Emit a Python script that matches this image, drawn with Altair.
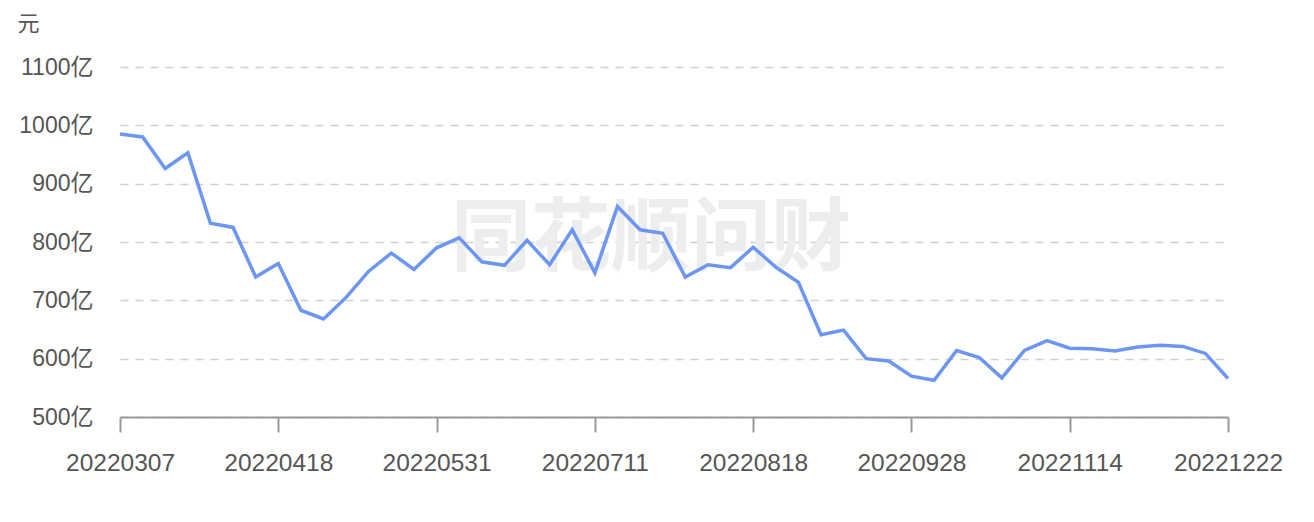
import altair as alt
import pandas as pd

dates = [
    "20220307", "20220314", "20220318", "20220325", "20220401", "20220406", "20220412",
    "20220418", "20220422", "20220429", "20220506", "20220512", "20220518", "20220524",
    "20220531", "20220607", "20220613", "20220617", "20220624", "20220630", "20220705",
    "20220711", "20220715", "20220721", "20220727", "20220802", "20220808", "20220812",
    "20220818", "20220824", "20220830", "20220905", "20220909", "20220916", "20220922",
    "20220928", "20221011", "20221017", "20221021", "20221027", "20221102", "20221108",
    "20221114", "20221118", "20221124", "20221130", "20221206", "20221212", "20221216",
    "20221222",
]
values = [
    985, 980, 926, 953, 832, 825, 740, 763, 683, 668,
    705, 750, 781, 753, 790, 807, 766, 760, 803, 761,
    821, 747, 861, 821, 815, 740, 761, 756, 791, 757,
    731, 641, 649, 600, 596, 570, 563, 614, 602, 567,
    614, 631, 618, 617, 613, 620, 623, 621, 609, 566,
]
tick_dates = ["20220307", "20220418", "20220531", "20220711",
              "20220818", "20220928", "20221114", "20221222"]
y_ticks = [500, 600, 700, 800, 900, 1000, 1100]
watermark = "同花顺问财"
unit = "元"

df = pd.DataFrame({"date": dates, "value": values})
FONT = "Liberation Sans, Noto Sans CJK SC"

x_enc = alt.X(
    "date:N", sort=None,
    scale=alt.Scale(type="point", padding=0),
    axis=alt.Axis(
        values=tick_dates, labelAngle=0, title=None, grid=False,
        domainColor="#999999", domainWidth=2, tickColor="#999999", tickWidth=2,
        tickSize=15, labelFontSize=24.5, labelColor="#555555", labelPadding=19,
        labelFont=FONT,
    ),
)
y_enc = alt.Y(
    "value:Q",
    scale=alt.Scale(domain=[500, 1100], nice=False, zero=False),
    axis=alt.Axis(
        values=y_ticks, labelExpr="datum.value + '亿'", domain=False, ticks=False,
        grid=True, gridDash=[8, 7], gridColor="#d0d0d0", gridWidth=1.5,
        labelFontSize=23, labelColor="#555555", labelPadding=27, labelFont=FONT,
        title=unit, titleAngle=0, titleAlign="left", titleBaseline="alphabetic",
        titleX=-103, titleY=-37, titleFontSize=22, titleFontWeight="normal",
        titleColor="#555555", titleFont=FONT,
    ),
)

wm = alt.Chart(pd.DataFrame({"t": [watermark]})).mark_text(
    fontSize=80, fontWeight="bold", color="#ededed", font="Noto Sans CJK SC",
    align="center", baseline="middle",
).encode(x=alt.value(531), y=alt.value(173), text="t:N")

line = alt.Chart(df).mark_line(color="#6d96f2", strokeWidth=3.5).encode(x=x_enc, y=y_enc)

chart = alt.layer(wm, line).properties(
    width=1108, height=350,
    autosize=alt.AutoSizeParams(type="none"),
    padding={"left": 112, "top": 59, "right": 78, "bottom": 97},
).configure_view(stroke=None)

chart.save("out.html", embed_options={"renderer": "svg", "actions": False})
